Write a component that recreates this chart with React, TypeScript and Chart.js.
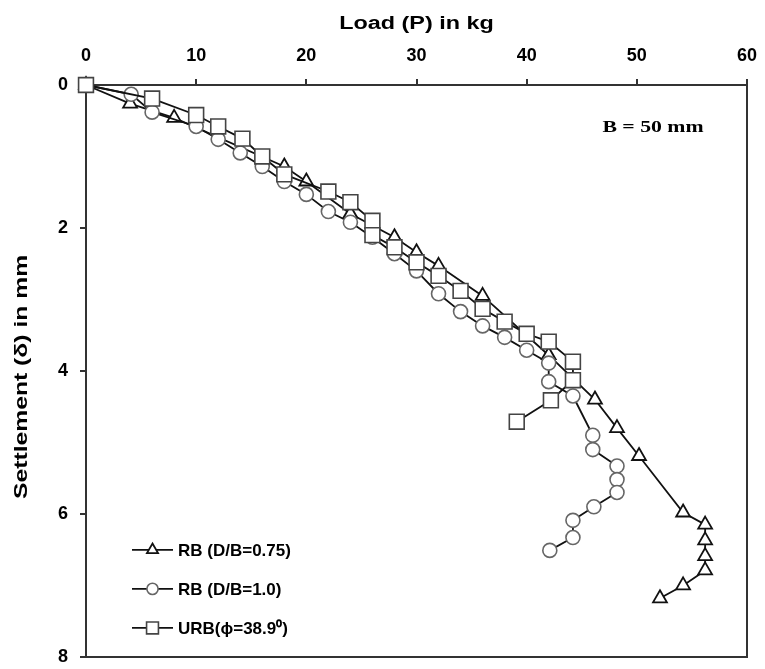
import React, { useEffect, useRef } from 'react';
import { Chart, registerables } from 'chart.js';

Chart.register(...registerables);

// ---- data ----
const seriesNames = ['RB (D/B=0.75)', 'RB (D/B=1.0)', 'URB(ϕ=38.9⁰)'];

const rb075Load = [0, 4, 8, 18, 20, 24, 28, 30, 32, 36, 42, 46.2, 48.2, 50.2, 54.2, 56.2, 56.2, 56.2, 56.2, 54.2, 52.1];
const rb075Settle = [0, 0.26, 0.46, 1.14, 1.35, 1.8, 2.13, 2.34, 2.53, 2.95, 3.78, 4.4, 4.8, 5.19, 5.98, 6.15, 6.37, 6.59, 6.79, 7.0, 7.18];

const rb10Load = [0, 4.1, 6, 10, 12, 14, 16, 18, 20, 22, 24, 26, 28, 30, 32, 34, 36, 38, 40, 42, 42, 44.2, 46, 46, 48.2, 48.2, 48.2, 46.1, 44.2, 44.2, 42.1];
const rb10Settle = [0, 0.13, 0.38, 0.58, 0.76, 0.95, 1.14, 1.35, 1.53, 1.77, 1.92, 2.13, 2.36, 2.6, 2.92, 3.17, 3.37, 3.53, 3.71, 3.89, 4.15, 4.35, 4.9, 5.1, 5.33, 5.52, 5.7, 5.9, 6.09, 6.33, 6.51];

const urbLoad = [0, 6, 10, 12, 14.2, 16, 18, 22, 24, 26, 26, 28, 30, 32, 34, 36, 38, 40, 42, 44.2, 44.2, 42.2, 39.1];
const urbSettle = [0, 0.19, 0.42, 0.58, 0.75, 1.0, 1.25, 1.49, 1.64, 1.9, 2.1, 2.27, 2.48, 2.67, 2.88, 3.13, 3.31, 3.48, 3.59, 3.87, 4.13, 4.41, 4.71];

const xTickValues = [0, 10, 20, 30, 40, 50, 60];
const yTickValues = [0, 2, 4, 6, 8];

const xTitle = 'Load (P) in kg';
const yTitle = 'Settlement (δ) in mm';
const annotationText = 'B = 50 mm';

const toPoints = (xs: number[], ys: number[]) => xs.map((x, i) => ({ x, y: ys[i] }));

const SANS = "'Liberation Sans', Arial, sans-serif";
const SERIF = "'Liberation Serif', 'Times New Roman', serif";

const markerStyles = [
  { style: 'triangle', radius: 8, color: '#111', width: 1.8 },
  { style: 'circle', radius: 7, color: '#666', width: 1.6 },
  { style: 'rect', radius: 10.5, color: '#444', width: 1.6 },
];

function drawMarker(ctx: CanvasRenderingContext2D, style: string, r: number, x: number, y: number) {
  ctx.beginPath();
  if (style === 'circle') {
    ctx.arc(x, y, r, 0, Math.PI * 2);
  } else if (style === 'triangle') {
    for (let k = 0; k < 3; k++) {
      const a = (k * 2 * Math.PI) / 3;
      const px = x + Math.sin(a) * r;
      const py = y - Math.cos(a) * r;
      if (k === 0) ctx.moveTo(px, py);
      else ctx.lineTo(px, py);
    }
    ctx.closePath();
  } else {
    const s = Math.SQRT1_2 * r;
    ctx.rect(x - s, y - s, 2 * s, 2 * s);
  }
  ctx.fill();
  ctx.stroke();
}

function stretchedText(ctx: CanvasRenderingContext2D, text: string, x: number, y: number, font: string, sx: number, rotate = 0) {
  ctx.save();
  ctx.translate(x, y);
  if (rotate) ctx.rotate(rotate);
  ctx.scale(sx, 1);
  ctx.font = font;
  ctx.textAlign = 'center';
  ctx.textBaseline = 'middle';
  ctx.fillStyle = '#000';
  ctx.fillText(text, 0, 0);
  ctx.restore();
}

const framePlugin = {
  id: 'frameAndLegend',
  afterDraw(chart: any) {
    const { ctx, chartArea } = chart;
    const { left, right, top, bottom } = chartArea;
    ctx.save();
    // right and bottom frame
    ctx.strokeStyle = '#333';
    ctx.lineWidth = 2;
    ctx.beginPath();
    ctx.moveTo(right, top);
    ctx.lineTo(right, bottom);
    ctx.lineTo(left, bottom);
    ctx.stroke();

    // axis titles
    stretchedText(ctx, xTitle, (left + right) / 2, top - 61, `bold 18px ${SANS}`, 1.3);
    stretchedText(ctx, yTitle, left - 64, (top + bottom) / 2 + 6, `bold 19px ${SANS}`, 1.3, -Math.PI / 2);

    // annotation
    stretchedText(ctx, annotationText, right - 94, top + 43, `bold 17px ${SERIF}`, 1.28);

    // legend
    const rows = [bottom - 107, bottom - 68, bottom - 29];
    seriesNames.forEach((name, i) => {
      const y = rows[i];
      const x0 = left + 46;
      const x1 = left + 87;
      ctx.strokeStyle = '#111';
      ctx.lineWidth = 1.8;
      ctx.beginPath();
      ctx.moveTo(x0, y);
      ctx.lineTo(x1, y);
      ctx.stroke();
      const m = markerStyles[i];
      ctx.fillStyle = '#fff';
      ctx.strokeStyle = m.color;
      ctx.lineWidth = m.width;
      drawMarker(ctx, m.style, m.radius * 0.8, (x0 + x1) / 2, y);
      ctx.fillStyle = '#000';
      ctx.font = `bold 17px ${SANS}`;
      ctx.textAlign = 'left';
      ctx.textBaseline = 'middle';
      ctx.fillText(name, x1 + 5, y + 1);
    });
    ctx.restore();
  },
};

export default function App() {
  const ref = useRef<HTMLCanvasElement | null>(null);

  useEffect(() => {
    if (!ref.current) return;

    const mk = (i: number, data: any[], order: number) => ({
      label: seriesNames[i],
      data,
      showLine: true,
      borderColor: '#111',
      borderWidth: 1.8,
      pointStyle: markerStyles[i].style,
      pointRadius: markerStyles[i].radius,
      pointBackgroundColor: '#fff',
      pointBorderColor: markerStyles[i].color,
      pointBorderWidth: markerStyles[i].width,
      clip: false,
      order,
    });

    const chart = new Chart(ref.current, {
      type: 'scatter',
      data: {
        datasets: [
          mk(0, toPoints(rb075Load, rb075Settle), 2),
          mk(1, toPoints(rb10Load, rb10Settle), 1),
          mk(2, toPoints(urbLoad, urbSettle), 0),
        ],
      },
      options: {
        animation: false,
        responsive: false,
        devicePixelRatio: 1,
        layout: { padding: { left: 0, top: 0, right: 18, bottom: 9 } },
        plugins: {
          legend: { display: false },
          tooltip: { enabled: false },
        },
        scales: {
          x: {
            type: 'linear',
            position: 'top',
            min: 0,
            max: 60,
            afterBuildTicks: (scale: any) => {
              scale.ticks = xTickValues.map((v) => ({ value: v }));
            },
            afterFit: (scale: any) => {
              scale.height = 85;
              scale.paddingLeft = 0;
              scale.paddingRight = 0;
            },
            grid: {
              display: true,
              drawOnChartArea: false,
              drawTicks: true,
              tickLength: 6,
              color: '#333',
              lineWidth: 2,
            },
            border: { display: true, color: '#333', width: 2 },
            ticks: {
              color: '#000',
              padding: 12,
              font: { family: SANS, size: 18, weight: 'bold' },
            },
            title: { display: false },
          },
          y: {
            type: 'linear',
            reverse: true,
            min: 0,
            max: 8,
            afterBuildTicks: (scale: any) => {
              scale.ticks = yTickValues.map((v) => ({ value: v }));
            },
            afterFit: (scale: any) => {
              scale.width = 86;
              scale.paddingTop = 0;
              scale.paddingBottom = 0;
            },
            grid: {
              display: true,
              drawOnChartArea: false,
              drawTicks: true,
              tickLength: 6,
              color: '#333',
              lineWidth: 2,
            },
            border: { display: true, color: '#333', width: 2 },
            ticks: {
              color: '#000',
              padding: 12,
              font: { family: SANS, size: 18, weight: 'bold', lineHeight: 0.6 },
            },
            title: { display: false },
          },
        },
      } as any,
      plugins: [framePlugin],
    });
    return () => chart.destroy();
  }, []);

  return (
    <div style={{ position: 'fixed', left: 0, top: 0, width: 765, height: 669, background: '#fff' }}>
      <canvas ref={ref} width={765} height={669} style={{ width: 765, height: 669, display: 'block' }} />
    </div>
  );
}
